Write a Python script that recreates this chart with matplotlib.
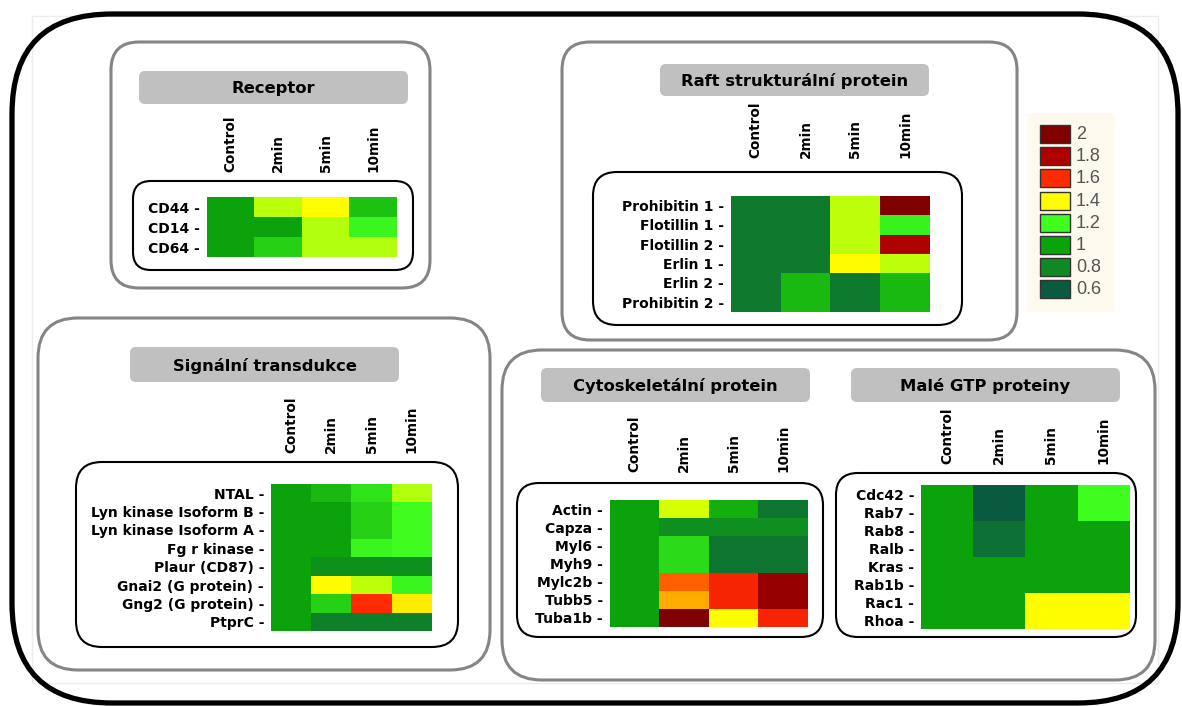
import numpy as np
import matplotlib
matplotlib.use("Agg")
import matplotlib.pyplot as plt
from matplotlib.colors import LinearSegmentedColormap, Normalize
from matplotlib.patches import FancyBboxPatch, Rectangle

W, H = 1182, 706

timepoints = ["Control", "2min", "5min", "10min"]

receptor_rows = ["CD44", "CD14", "CD64"]
receptor_vals = [[1.00, 1.33, 1.40, 1.07],
                 [1.00, 1.00, 1.32, 1.18],
                 [1.00, 1.10, 1.32, 1.32]]

raft_rows = ["Prohibitin 1", "Flotillin 1", "Flotillin 2", "Erlin 1",
             "Erlin 2", "Prohibitin 2"]
raft_vals = [[0.74, 0.74, 1.33, 2.00],
             [0.74, 0.74, 1.33, 1.17],
             [0.74, 0.74, 1.33, 1.80],
             [0.74, 0.74, 1.40, 1.33],
             [0.74, 1.05, 0.74, 1.05],
             [0.74, 1.05, 0.74, 1.05]]

signal_rows = ["NTAL", "Lyn kinase Isoform B", "Lyn kinase Isoform A",
               "Fg r kinase", "Plaur (CD87)", "Gnai2 (G protein)",
               "Gng2 (G protein)", "PtprC"]
signal_vals = [[1.00, 1.05, 1.14, 1.32],
               [1.00, 1.00, 1.10, 1.20],
               [1.00, 1.00, 1.10, 1.20],
               [1.00, 1.00, 1.18, 1.20],
               [1.00, 0.86, 0.86, 0.86],
               [1.00, 1.40, 1.33, 1.18],
               [1.00, 1.10, 1.60, 1.42],
               [1.00, 0.76, 0.76, 0.76]]

cyto_rows = ["Actin", "Capza", "Myl6", "Myh9", "Mylc2b", "Tubb5", "Tuba1b"]
cyto_vals = [[1.00, 1.36, 1.03, 0.72],
             [1.00, 0.85, 0.85, 0.85],
             [1.00, 1.12, 0.72, 0.72],
             [1.00, 1.12, 0.72, 0.72],
             [1.00, 1.55, 1.62, 1.90],
             [1.00, 1.48, 1.62, 1.90],
             [1.00, 2.00, 1.40, 1.62]]

gtp_rows = ["Cdc42", "Rab7", "Rab8", "Ralb", "Kras", "Rab1b", "Rac1", "Rhoa"]
gtp_vals = [[1.00, 0.60, 1.00, 1.20],
            [1.00, 0.60, 1.00, 1.20],
            [1.00, 0.70, 1.00, 1.00],
            [1.00, 0.70, 1.00, 1.00],
            [1.00, 1.00, 1.00, 1.00],
            [1.00, 1.00, 1.00, 1.00],
            [1.00, 1.00, 1.40, 1.40],
            [1.00, 1.00, 1.40, 1.40]]

legend_levels = [2, 1.8, 1.6, 1.4, 1.2, 1, 0.8, 0.6]
level_colors = ["#800000", "#b00000", "#ff2a00", "#ffff00",
                "#40ff20", "#0ca20c", "#108a25", "#0a5a40"]

vmin, vmax = 0.6, 2.0
norm = Normalize(vmin, vmax)
nodes = sorted(zip([(v - vmin) / (vmax - vmin) for v in legend_levels], level_colors))
cmap = LinearSegmentedColormap.from_list("ratio", nodes)

fig = plt.figure(figsize=(W / 100, H / 100), dpi=100)
bg = fig.add_axes([0, 0, 1, 1])
bg.set_xlim(0, W)
bg.set_ylim(H, 0)
bg.axis("off")


def rbox(x0, y0, x1, y1, r, ec="none", lw=1.0, fc="none", z=1):
    p = FancyBboxPatch((x0, y0), x1 - x0, y1 - y0,
                       boxstyle="round,pad=0,rounding_size=%g" % r,
                       ec=ec, fc=fc, lw=lw, zorder=z)
    bg.add_patch(p)


def title_bar(x0, y0, x1, y1, text):
    rbox(x0, y0, x1, y1, 6, fc="#c0c0c0", z=2)
    bg.text((x0 + x1) / 2, (y0 + y1) / 2 + 1, text, ha="center", va="center",
            fontsize=11.8, fontweight="bold", zorder=3)


def heatmap(x0, y0, x1, y1, rows, vals, col_pad):
    ax = fig.add_axes([x0 / W, 1 - y1 / H, (x1 - x0) / W, (y1 - y0) / H])
    ax.imshow(np.array(vals), cmap=cmap, norm=norm, aspect="auto",
              interpolation="nearest")
    ax.set_yticks(range(len(rows)))
    ax.set_yticklabels([r + " -" for r in rows], fontsize=10, fontweight="bold")
    ax.xaxis.tick_top()
    ax.set_xticks(range(len(timepoints)))
    ax.set_xticklabels(timepoints, rotation=90, fontsize=9.8, fontweight="bold")
    ax.tick_params(length=0)
    ax.tick_params(axis="y", pad=5)
    ax.tick_params(axis="x", pad=col_pad)
    for s in ax.spines.values():
        s.set_visible(False)
    return ax


# outer frame
bg.add_patch(Rectangle((32, 16), 1126, 667, fc="none", ec="#ececec", lw=1, zorder=0))
rbox(12, 14, 1178, 703, 100, ec="black", lw=3.8, z=5)

# panel outlines
grey = "#858585"
rbox(111, 42, 430, 288, 28, ec=grey, lw=2.2)
rbox(562, 42, 1017, 340, 28, ec=grey, lw=2.2)
rbox(38, 318, 490, 670, 40, ec=grey, lw=2.2)
rbox(502, 350, 1155, 680, 40, ec=grey, lw=2.2)

# inner boxes around heatmaps
rbox(133, 181, 413, 270, 18, ec="black", lw=1.5)
rbox(593, 172, 962, 325, 24, ec="black", lw=1.5)
rbox(76, 462, 458, 647, 26, ec="black", lw=1.5)
rbox(517, 483, 823, 637, 22, ec="black", lw=1.5)
rbox(836, 473, 1136, 637, 22, ec="black", lw=1.5)

title_bar(139, 71, 408, 104, "Receptor")
title_bar(660, 64, 929, 96, "Raft strukturální protein")
title_bar(130, 347, 399, 382, "Signální transdukce")
title_bar(541, 368, 810, 402, "Cytoskeletální protein")
title_bar(851, 368, 1120, 402, "Malé GTP proteiny")

heatmap(207, 197, 397, 257, receptor_rows, receptor_vals, 18)
heatmap(731, 196, 930, 312, raft_rows, raft_vals, 27)
heatmap(271, 484, 432, 631, signal_rows, signal_vals, 22)
heatmap(610, 500, 808, 627, cyto_rows, cyto_vals, 20)
heatmap(921, 485, 1129, 629, gtp_rows, gtp_vals, 15)

# colour key
bg.add_patch(Rectangle((1027, 113), 88, 199, fc="#fdf9ee", ec="none", zorder=1))
for i, lev in enumerate(legend_levels):
    top = 125 + i * 22.2
    bg.add_patch(Rectangle((1040, top), 30, 18, fc=cmap(norm(lev)),
                           ec="#333333", lw=1, zorder=2))
    bg.text(1076, top + 9.5, "%g" % lev, ha="left", va="center",
            fontsize=13, family="Liberation Sans", color="#555555", zorder=3)

fig.savefig("out.png", dpi=100)
